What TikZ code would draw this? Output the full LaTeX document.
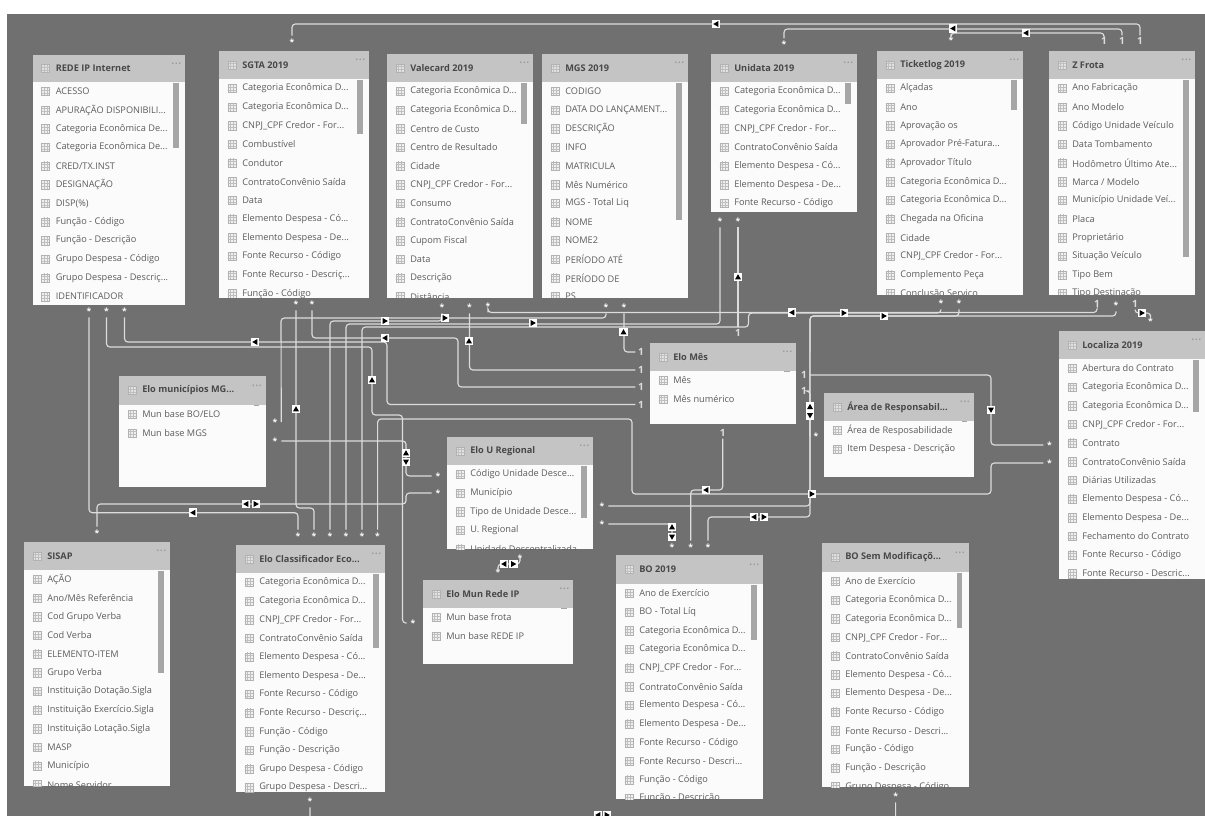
\documentclass[tikz,border=0pt]{standalone}
\usepackage{fontspec}
\setmainfont{Open Sans}
\usetikzlibrary{fit}
\definecolor{canvascol}{HTML}{707070}
\definecolor{headcol}{HTML}{C4C4C4}
\definecolor{bodycol}{HTML}{FBFBFB}
\definecolor{thumbcol}{HTML}{A6A6A6}
\definecolor{relcol}{HTML}{DCDCDC}
\definecolor{rowcol}{HTML}{5C5C5C}
\definecolor{titlecol}{HTML}{484848}
\newcommand{\trunc}{...}

% name, left, top, right, bottom, header bottom, scrollbar bottom, title, rows
\newcommand{\dbtable}[9]{
  \node[tablebody, fit={(#2,#3) (#4,#5)}] (#1) {};
  \begin{scope}
    \clip (#2,#3) rectangle (#4,#5);
    \fill[thumbcol] ({#4-12},{#6+1}) rectangle ({#4-6.5},#7);
    \foreach \rowname [count=\i] in {#9} {
      \node[rowicon] (#1-icon\i) at ({#2+13},{#6+9.5+(\i-1)*18.65}) {};
      \node[rowtext] (#1-row\i) at ({#2+23},{#6+9.5+(\i-1)*18.65}) {\rowname};
    }
  \end{scope}
  \node[tablehead, fit={(#2,#3) (#4,#6)}] (#1-head) {};
  \node[rowicon, fill=headcol!50] (#1-headicon) at ({#2+13},{(#3+#6)/2}) {};
  \node[titletext] (#1-title) at ({#2+23},{(#3+#6)/2}) {#8};
  \node[moretext] (#1-more) at ({#4-3},{(#3+#6)/2-3}) {···};
}

\begin{document}
\begin{tikzpicture}[
    x=0.75pt, y=-0.75pt,
    tablebody/.style={rectangle, inner sep=0pt, fill=bodycol},
    tablehead/.style={rectangle, inner sep=0pt, fill=headcol},
    rowtext/.style={anchor=west, inner sep=0pt, text=rowcol, font=\fontsize{6.9}{8}\selectfont},
    titletext/.style={anchor=west, inner sep=0pt, text=titlecol, font=\fontsize{6.9}{8}\selectfont\bfseries},
    moretext/.style={anchor=east, inner sep=0pt, text=gray!80, font=\fontsize{10}{10}\selectfont},
    rowicon/.style={rectangle, inner sep=0pt, minimum size=6.2pt, draw=gray!60, line width=.3pt, fill=gray!12,
      path picture={\draw[gray!50, line width=.3pt, shift={(path picture bounding box.center)}]
        (-5,-1.5)--(5,-1.5) (-5,1.5)--(5,1.5) (-1.5,-5)--(-1.5,5) (1.5,-5)--(1.5,5);}},
    manyend/.style={rectangle, inner sep=0pt, minimum size=9pt, text=white, font=\fontsize{6.5}{8}\selectfont\bfseries},
    oneend/.style={rectangle, inner sep=0pt, minimum size=8pt, text=relcol, font=\fontsize{7.5}{8}\selectfont\bfseries},
    rel/.style={draw=relcol, line width=0.85pt, rounded corners=2.5pt},
    relmark/.style={rectangle, inner sep=0pt, minimum size=6.5pt, fill=white},
]
\path[use as bounding box, clip] (0,0) rectangle (1205,816);
\fill[white] (0,0) rectangle (1205,816);
\fill[canvascol] (7,14.5) rectangle (1205,816);

\dbtable{rede}{32.5}{55}{185}{305}{82}{148}{REDE IP Internet}{ACESSO,APURAÇÃO DISPONIBILI\trunc,Categoria Econômica De\trunc,Categoria Econômica De\trunc,CRED/TX.INST,DESIGNAÇÃO,DISP(\%),Função - Código,Função - Descrição,Grupo Despesa - Código,Grupo Despesa - Descriç\trunc,IDENTIFICADOR}
\dbtable{sgta}{219}{51}{369}{298}{79}{134}{SGTA 2019}{Categoria Econômica D\trunc,Categoria Econômica D\trunc,CNPJ\_CPF Credor - For\trunc,Combustível,Condutor,ContratoConvênio Saída,Data,Elemento Despesa - Có\trunc,Elemento Despesa - De\trunc,Fonte Recurso - Código,Fonte Recurso - Descriç\trunc,Função - Código}
\dbtable{vale}{387}{54}{533}{298}{82}{124}{Valecard 2019}{Categoria Econômica D\trunc,Categoria Econômica D\trunc,Centro de Custo,Centro de Resultado,Cidade,CNPJ\_CPF Credor - For\trunc,Consumo,ContratoConvênio Saída,Cupom Fiscal,Data,Descrição,Distância}
\dbtable{mgs}{542}{54}{688}{298}{82}{220}{MGS 2019}{CODIGO,DATA DO LANÇAMENT\trunc,DESCRIÇÃO,INFO,MATRICULA,Mês Numérico,MGS - Total Liq,NOME,NOME2,PERÍODO ATÉ,PERÍODO DE,PS}
\dbtable{unidata}{711}{54}{857}{212}{82}{104}{Unidata 2019}{Categoria Econômica D\trunc,Categoria Econômica D\trunc,CNPJ\_CPF Credor - For\trunc,ContratoConvênio Saída,Elemento Despesa - Có\trunc,Elemento Despesa - De\trunc,Fonte Recurso - Código}
\dbtable{ticket}{877}{51}{1023}{295}{79}{110}{Ticketlog 2019}{Alçadas,Ano,Aprovação os,Aprovador Pré-Fatura\trunc,Aprovador Título,Categoria Econômica D\trunc,Categoria Econômica D\trunc,Chegada na Oficina,Cidade,CNPJ\_CPF Credor - For\trunc,Complemento Peça,Conclusão Serviço}
\dbtable{frota}{1049}{51}{1195}{295}{79}{257}{Z Frota}{Ano Fabricação,Ano Modelo,Código Unidade Veículo,Data Tombamento,Hodômetro Último Ate\trunc,Marca / Modelo,Município Unidade Veí\trunc,Placa,Proprietário,Situação Veículo,Tipo Bem,Tipo Destinação}
\dbtable{localiza}{1059}{331}{1205}{579}{359}{412}{Localiza 2019}{Abertura do Contrato,Categoria Econômica D\trunc,Categoria Econômica D\trunc,CNPJ\_CPF Credor - For\trunc,Contrato,ContratoConvênio Saída,Diárias Utilizadas,Elemento Despesa - Có\trunc,Elemento Despesa - De\trunc,Fechamento do Contrato,Fonte Recurso - Código,Fonte Recurso - Descric\trunc}
\dbtable{munic}{119}{376}{265.5}{487}{405}{405}{Elo municípios MG...}{Mun base BO/ELO,Mun base MGS}
\dbtable{uregional}{447}{437}{593}{549}{465}{518}{Elo U Regional}{Código Unidade Desce\trunc,Município,Tipo de Unidade Desce\trunc,U. Regional,Unidade Descentralizada}
\dbtable{elomes}{650}{343}{796}{424}{371}{371}{Elo Mês}{Mês,Mês numérico}
\dbtable{area}{824}{393}{973.5}{477}{421}{421}{Área de Responsabil...}{Área de Resposabilidade,Item Despesa - Descrição}
\dbtable{sisap}{24}{542}{170}{786}{570}{673}{SISAP}{AÇÃO,Ano/Mês Referência,Cod Grupo Verba,Cod Verba,ELEMENTO-ITEM,Grupo Verba,Instituição Dotação.Sigla,Instituição Exercício.Sigla,Instituição Lotação.Sigla,MASP,Município,Nome Servidor}
\dbtable{classif}{236}{545}{385}{792}{573}{648}{Elo Classificador Eco...}{Categoria Econômica D\trunc,Categoria Econômica D\trunc,CNPJ\_CPF Credor - For\trunc,ContratoConvênio Saída,Elemento Despesa - Có\trunc,Elemento Despesa - De\trunc,Fonte Recurso - Código,Fonte Recurso - Descriç\trunc,Função - Código,Função - Descrição,Grupo Despesa - Código,Grupo Despesa - Descri\trunc}
\dbtable{munrede}{423}{580}{573}{664}{608}{608}{Elo Mun Rede IP}{Mun base frota,Mun base REDE IP}
\dbtable{bo}{616}{555}{763}{799}{584}{640}{BO 2019}{Ano de Exercício,BO - Total Líq,Categoria Econômica D\trunc,Categoria Econômica D\trunc,CNPJ\_CPF Credor - For\trunc,ContratoConvênio Saída,Elemento Despesa - Có\trunc,Elemento Despesa - De\trunc,Fonte Recurso - Código,Fonte Recurso - Descri\trunc,Função - Código,Função - Descrição}
\dbtable{bosem}{822}{543}{968.5}{787}{572}{628}{BO Sem Modificaçõ...}{Ano de Exercício,Categoria Econômica D\trunc,Categoria Econômica D\trunc,CNPJ\_CPF Credor - For\trunc,ContratoConvênio Saída,Elemento Despesa - Có\trunc,Elemento Despesa - De\trunc,Fonte Recurso - Código,Fonte Recurso - Descri\trunc,Função - Código,Função - Descrição,Grupo Despesa - Código}

% many ends
\foreach \endname/\ex/\ey in {sgtatop/292/42, unidatatop/784/44.6, tickettop/951/40,
    redea/89/311, redeb/106.5/311, redec/124.5/311, sgtaa/296/304, sgtab/312/304,
    valea/442/307, valeb/469.5/307, valec/488/306, mgsa/606/307, mgsb/624/307,
    unidataa/720/221, unidatab/738/221, ticketa/941/303, ticketb/959/303, frotab/1116/305,
    loca/1049.5/445, locb/1049.5/463, locc/1150.5/321, munica/275/422, municb/275/441,
    urega/602/506, uregb/602/524, uregc/438/476, uregd/438/493, areaa/816/436,
    classa/298/536, classb/314/536, classc/330/536, classd/346/536, classe/362/536, classf/377.6/536,
    classg/310/801, boa/672/547, bob/690.7/547, boc/708/547, bosema/895.6/796,
    sisapa/97/533, munreda/520/558, munredb/498/572, munfrota/413/623}
  \node[manyend] (\endname) at (\ex,\ey) {\raisebox{-1.1ex}{*}};

% one ends
\foreach \endname/\ex/\ey in {frotatopa/1104/41, frotatopb/1122/41, frotatopc/1140/41,
    frotaa/1097/304, frotac/1135/304, mesa/641/352, mesb/641/370, mesc/641/387, mesd/641/404.5,
    mese/804/375, mesf/804/391, mesg/722.7/433, mesh/738/333}
  \node[oneend] (\endname) at (\ex,\ey) {1};

% connectors
\draw[rel] (sgtatop.north) -- (292,24) -- (1140,24) -- (frotatopc.north);
\draw[rel] (unidatatop.north) -- (784,29) -- (1122,29) -- (frotatopb.north);
\draw[rel] (tickettop.north) -- (951,33) -- (1104,33) -- (frotatopa.north);
\draw[rel] (redec.south) -- (124.5,342) -- (387,342) -- (387,404.5) -- (mesd.west);
\draw[rel] (redeb.south) -- (106.5,347) -- (372,347) -- (372,415) -- (402.5,415) -- (402.5,623) -- (munfrota.west);
\draw[rel] (redea.south) -- (89,512.7) -- (298,512.7) -- (classa.north);
\draw[rel] (sgtaa.south) -- (296,508) -- (314,508) -- (classb.north);
\draw[rel] (sgtab.south) -- (312,338) -- (458,338) -- (458,387) -- (mesc.west);
\draw[rel] (valeb.south) -- (469.5,370) -- (mesb.west);
\draw[rel] (mgsb.south) -- (624,352) -- (mesa.west);
\draw[rel] (munica.east) -- (281,318) -- (606,318) -- (mgsa.south);
\draw[rel] (classc.north) -- (330,321) -- (442,321) -- (valea.south);
\draw[rel] (classd.north) -- (346,324) -- (720,324) -- (unidataa.south);
\draw[rel] (classe.north) -- (362,327) -- (748.5,327) -- (748.5,313) -- (941,313) -- (ticketa.south);
\draw[rel] (classf.north) -- (377.6,419) -- (632,419) -- (632,494) -- (991,494) -- (991,463) -- (locb.west);
\draw[rel] (valec.south) -- (488,312.5) -- (1097,312.5) -- (frotaa.south);
\draw[rel] (ticketb.south) -- (959,316) -- (810,316) -- (areaa.west);
\draw[rel] (frotab.south) -- (1116,316) -- (810,316) -- (810,517) -- (708,517) -- (boc.north);
\draw[rel] (mese.east) -- (991,375) -- (991,445) -- (loca.west);
\draw[rel] (urega.east) -- (810,506) -- (810,391) -- (mesf.east);
\draw[rel] (uregb.east) -- (672,524) -- (boa.north);
\draw[rel] (mesg.south) -- (722.7,490) -- (690.7,490) -- (bob.north);
\draw[rel] (municb.east) -- (406,441) -- (406,476) -- (uregc.west);
\draw[rel] (uregd.west) -- (406,493) -- (406,504) -- (97,504) -- (sisapa.north);
\draw[rel] (unidatab.south) -- (mesh.north);
\draw[rel] (frotac.south) -- (1135,313) -- (1150.5,313) -- (locc.north);
\draw[rel] (munreda.center) -- (520,564) -- (498,564) -- (munredb.center);
\draw[rel] (classg.south) -- (310,826) -- (895.6,826) -- (bosema.south);

% direction marks
\foreach \markname/\mx/\my/\mrot in {ma/716/24/180, mb/953/28.5/180, mc/1026/33/180, md/792/312.5/180,
    me/844/313/0, mf/884/316/0, mg/1142/313/0, mh/385/321/0, mi/445/318/0, mj/533/323/0,
    mk/255/342/180, ml/385/338/180, mm/469/341/90, mn/623.5/332/90, mo/372/380/90, mp/296/409/90,
    mq/406/453/90, mr/406/462/-90, ms/246/504/180, mt/256/504/0, mu/193/512.7/180,
    mv/738/277/90, mw/810/406.7/90, mx/810/415.5/-90, my/991/410/-90, mz/812/494/0,
    na/706/490/180, nb/754/517/180, nc/764/517/0, nd/672/527/90, ne/672/537/-90,
    nf/504/564/180, ng/513.5/564/0, nh/598/815/180, ni/607/815/0}
  {
  \node[relmark] (\markname) at (\mx,\my) {};
  \fill[black, shift={(\mx,\my)}, rotate=\mrot] (-2.4,-3) -- (-2.4,3) -- (2.8,0) -- cycle;
  }
\end{tikzpicture}
\end{document}
